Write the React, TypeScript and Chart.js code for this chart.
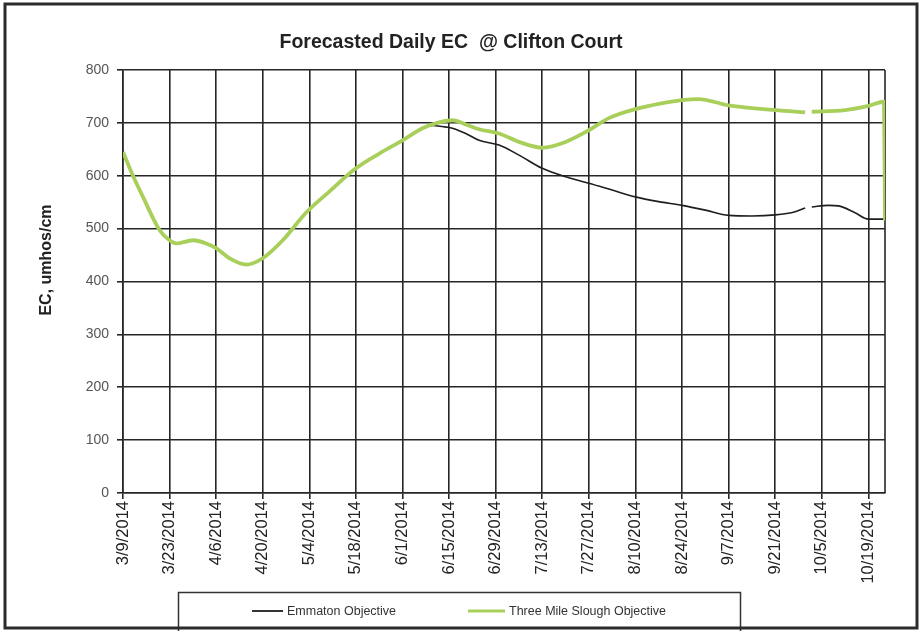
import React, { useEffect, useRef } from 'react';
import { Chart, registerables } from 'chart.js';

Chart.register(...registerables);

const chartTitle = 'Forecasted Daily EC  @ Clifton Court';
const yAxisTitle = 'EC, umhos/cm';
const seriesNames = ['Emmaton Objective', 'Three Mile Slough Objective'];

// x tick labels, one every 14 days starting 3/9/2014 (day 0)
const tickLabels = [
  '3/9/2014', '3/23/2014', '4/6/2014', '4/20/2014', '5/4/2014', '5/18/2014',
  '6/1/2014', '6/15/2014', '6/29/2014', '7/13/2014', '7/27/2014', '8/10/2014',
  '8/24/2014', '9/7/2014', '9/21/2014', '10/5/2014', '10/19/2014',
];

// days since 3/9/2014
const emmatonDays = [
  0, 3, 6, 11, 14, 16, 21, 25, 28, 32, 37, 42, 48, 55, 62, 70, 77, 84, 90,
  93, 96, 99, 103, 107, 113, 119, 126, 133, 140, 147, 154, 161, 168, 175, 182,
  189, 196, 202, 205, 206, 207, 212, 215, 220, 224, 229,
];
const emmatonValues = [
  645, 600, 560, 497, 478, 472, 478, 472, 463, 444, 432, 444, 478, 530, 570, 614, 642, 667, 690,
  695, 693, 690, 680, 667, 658, 639, 614, 598, 586, 573, 560, 551, 544, 535, 525,
  524, 526, 532, 539, null, 541, 544, 543, 530, 518, 518,
];

const threeMileDays = [
  0, 3, 6, 11, 14, 16, 21, 25, 28, 32, 37, 42, 48, 55, 62, 70, 77, 84, 90,
  95, 99, 103, 107, 113, 119, 126, 133, 140, 146, 154, 161, 168, 173, 182,
  189, 196, 205, 206, 207, 217, 224, 228.7, 229,
];
const threeMileValues = [
  645, 600, 560, 497, 478, 472, 478, 472, 463, 444, 432, 444, 478, 530, 570, 614, 642, 667, 690,
  701, 705, 697, 688, 680, 664, 653, 664, 686, 709, 726, 736, 743, 745, 733,
  728, 724, 720, null, 721, 724, 732, 740, 515,
];

const GRID = '#262626';
const GREEN = '#a9cf5b';
const BLACK = '#1e1e1e';
const FONT = '"Liberation Sans", Arial, sans-serif';

const decorPlugin = {
  id: 'decor',
  beforeDatasetsDraw(chart: any) {
    const { ctx, chartArea: a } = chart;
    ctx.save();
    ctx.strokeStyle = GRID;
    ctx.lineWidth = 1.6;
    ctx.beginPath();
    ctx.moveTo(a.right, a.top);
    ctx.lineTo(a.right, a.bottom);
    ctx.stroke();
    ctx.restore();
  },
  afterDraw(chart: any) {
    const { ctx } = chart;
    ctx.save();
    // title
    ctx.fillStyle = '#222';
    ctx.font = `bold 19.5px ${FONT}`;
    ctx.textAlign = 'center';
    ctx.textBaseline = 'alphabetic';
    ctx.fillText(chartTitle, 451, 48);
    // y axis title
    ctx.save();
    ctx.translate(47, 260);
    ctx.rotate(-Math.PI / 2);
    ctx.font = `bold 16px ${FONT}`;
    ctx.textBaseline = 'middle';
    ctx.fillText(yAxisTitle, 0, 0);
    ctx.restore();
    // legend box
    ctx.strokeStyle = '#333';
    ctx.lineWidth = 1.5;
    ctx.strokeRect(178.5, 592.5, 562, 60);
    const ds = chart.data.datasets;
    const items = [
      { x1: 252, x2: 283, tx: 287, color: ds[0].borderColor, w: 1.8, label: ds[0].label },
      { x1: 468, x2: 505, tx: 509, color: ds[1].borderColor, w: 3, label: ds[1].label },
    ];
    ctx.font = `12.5px ${FONT}`;
    ctx.textAlign = 'left';
    ctx.textBaseline = 'middle';
    for (const it of items) {
      ctx.strokeStyle = it.color;
      ctx.lineWidth = it.w;
      ctx.beginPath();
      ctx.moveTo(it.x1, 611);
      ctx.lineTo(it.x2, 611);
      ctx.stroke();
      ctx.fillStyle = '#333';
      ctx.fillText(it.label, it.tx, 612);
    }
    // outer frame
    ctx.strokeStyle = '#2b2b2b';
    ctx.lineWidth = 3;
    ctx.strokeRect(5, 4, 912, 624);
    ctx.restore();
  },
};

export default function App() {
  const ref = useRef<HTMLCanvasElement | null>(null);

  useEffect(() => {
    if (!ref.current) return;
    const chart = new Chart(ref.current, {
      type: 'line',
      data: {
        datasets: [
          {
            label: seriesNames[0],
            data: emmatonDays.map((d, i) => ({ x: d, y: emmatonValues[i] })) as any,
            borderColor: BLACK,
            borderWidth: 1.6,
            pointRadius: 0,
            cubicInterpolationMode: 'monotone',
            spanGaps: false,
            order: 1,
          },
          {
            label: seriesNames[1],
            data: threeMileDays.map((d, i) => ({ x: d, y: threeMileValues[i] })) as any,
            borderColor: GREEN,
            borderWidth: 3.8,
            pointRadius: 0,
            cubicInterpolationMode: 'monotone',
            spanGaps: false,
            order: 0,
          },
        ],
      },
      options: {
        animation: false,
        responsive: false,
        maintainAspectRatio: false,
        devicePixelRatio: 1,
        layout: { padding: { left: 0, right: 37, top: 70, bottom: 0 } },
        plugins: {
          legend: { display: false },
          title: { display: false },
          tooltip: { enabled: false },
        },
        scales: {
          x: {
            type: 'linear',
            min: 0,
            max: 229,
            bounds: 'data',
            afterFit: (s: any) => { s.height = 138; },
            afterBuildTicks: (s: any) => {
              s.ticks = s.ticks.filter((t: any) => t.value % 14 === 0);
            },
            grid: { color: GRID, lineWidth: 1.6, tickLength: 6, drawTicks: true },
            border: { color: GRID, width: 1.6 },
            ticks: {
              stepSize: 14,
              includeBounds: false,
              autoSkip: false,
              minRotation: 90,
              maxRotation: 90,
              padding: 2,
              color: '#222',
              font: { family: FONT, size: 16.5 },
              callback: (v: any) => tickLabels[Math.round(Number(v) / 14)] ?? '',
            },
          },
          y: {
            type: 'linear',
            min: 0,
            max: 800,
            afterFit: (s: any) => { s.width = 123; },
            grid: { color: GRID, lineWidth: 1.6, tickLength: 6, drawTicks: true },
            border: { color: GRID, width: 1.6 },
            ticks: {
              stepSize: 100,
              padding: 8,
              color: '#555',
              font: { family: FONT, size: 14 },
            },
          },
        },
      },
      plugins: [decorPlugin],
    });
    return () => chart.destroy();
  }, []);

  return (
    <div style={{ position: 'absolute', left: 0, top: 0, width: 922, height: 631, background: '#fff' }}>
      <canvas ref={ref} width={922} height={631} style={{ display: 'block' }} />
    </div>
  );
}
